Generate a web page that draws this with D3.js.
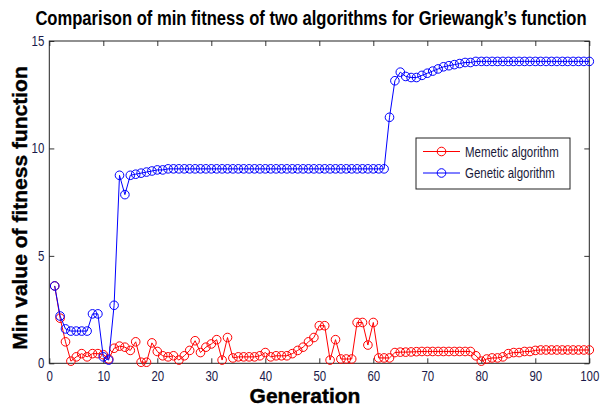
<!DOCTYPE html>
<html>
<head>
<meta charset="utf-8">
<script src="https://cdn.jsdelivr.net/npm/d3@7"></script>
<style>
  body { margin: 0; background: #fff; }
  #canvas { width: 601px; height: 407px; }
  text { font-family: "Liberation Sans", Arial, sans-serif; }
</style>
</head>
<body>
<div id="canvas" class="canvas"></div>
<script>
// data
var generations = d3.range(1, 101);

var memetic = [
  3.6, 2.1, 1.0, 0.1, 0.3, 0.45, 0.3, 0.45, 0.45, 0.4,
  0.2, 0.7, 0.8, 0.75, 0.6, 1.0, 0.05, 0.05, 0.95, 0.55,
  0.35, 0.3, 0.35, 0.15, 0.35, 0.6, 1.05, 0.5, 0.75, 0.9,
  1.1, 0.15, 1.2, 0.25, 0.3, 0.3, 0.3, 0.3, 0.35, 0.5,
  0.3, 0.35, 0.35, 0.35, 0.45, 0.6, 0.75, 1.0, 1.2, 1.75,
  1.75, 0.15, 1.1, 0.2, 0.2, 0.2, 1.9, 1.9, 0.85, 1.9,
  0.25, 0.25, 0.25, 0.5, 0.52, 0.52, 0.53, 0.54, 0.55, 0.55,
  0.55, 0.55, 0.55, 0.55, 0.55, 0.55, 0.55, 0.55, 0.35, 0.1,
  0.2, 0.25, 0.25, 0.3, 0.45, 0.5, 0.5, 0.55, 0.55, 0.6,
  0.62, 0.62, 0.62, 0.62, 0.62, 0.62, 0.62, 0.62, 0.62, 0.62
];

var genetic = [
  3.6, 2.2, 1.6, 1.5, 1.5, 1.5, 1.5, 2.3, 2.3, 0.3,
  0.15, 2.7, 8.75, 7.85, 8.75, 8.8, 8.85, 8.9, 8.95, 9.0,
  9.0, 9.05, 9.05, 9.05, 9.05, 9.05, 9.05, 9.05, 9.05, 9.05,
  9.05, 9.05, 9.05, 9.05, 9.05, 9.05, 9.05, 9.05, 9.05, 9.05,
  9.05, 9.05, 9.05, 9.05, 9.05, 9.05, 9.05, 9.05, 9.05, 9.05,
  9.05, 9.05, 9.05, 9.05, 9.05, 9.05, 9.05, 9.05, 9.05, 9.05,
  9.05, 9.05, 11.45, 13.15, 13.55, 13.35, 13.3, 13.3, 13.4, 13.5,
  13.6, 13.7, 13.8, 13.85, 13.9, 13.95, 14.0, 14.0, 14.05, 14.05,
  14.05, 14.05, 14.05, 14.05, 14.05, 14.05, 14.05, 14.05, 14.05, 14.05,
  14.05, 14.05, 14.05, 14.05, 14.05, 14.05, 14.05, 14.05, 14.05, 14.05
];

var xTicks = [0, 10, 20, 30, 40, 50, 60, 70, 80, 90, 100];
var yTicks = [0, 5, 10, 15];
var seriesNames = ['Memetic algorithm', 'Genetic algorithm'];
var seriesColors = ['#ff0000', '#0000ff'];

var m = {t: 41, r: 11.7, b: 43.7, l: 49.3},
    W = 601, H = 407,
    w = W - m.l - m.r,
    h = H - m.t - m.b;

// the original text is narrow, squeeze it horizontally
var squeeze = 0.82;

var svg = d3.select('.canvas')
    .append('svg')
    .attr('width', W)
    .attr('height', H);

var plot = svg.append('g')
    .attr('transform', 'translate(' + m.l + ',' + m.t + ')');

var x = d3.scaleLinear().domain([0, 100]).range([0, w]);
var y = d3.scaleLinear().domain([0, 15]).range([h, 0]);

// axes, ticks inward on all four sides (box)
function styleAxis(g) {
  g.select('.domain').remove();
  g.selectAll('.tick line').attr('stroke', '#333');
  g.selectAll('.tick text')
    .attr('fill', '#1a1a4a')
    .style('font-size', '14px')
    .attr('transform', 'scale(' + squeeze + ',1)');
}

plot.append('g')
  .attr('transform', 'translate(0,' + h + ')')
  .call(d3.axisBottom(x).tickValues(xTicks).tickSizeInner(-5).tickSizeOuter(0).tickPadding(8))
  .call(styleAxis);

plot.append('g')
  .call(d3.axisTop(x).tickValues(xTicks).tickSizeInner(-5).tickSizeOuter(0).tickFormat(''))
  .call(styleAxis);

plot.append('g')
  .call(d3.axisLeft(y).tickValues(yTicks).tickSizeInner(-5).tickSizeOuter(0).tickPadding(6))
  .call(styleAxis);

plot.append('g')
  .attr('transform', 'translate(' + w + ',0)')
  .call(d3.axisRight(y).tickValues(yTicks).tickSizeInner(-5).tickSizeOuter(0).tickFormat(''))
  .call(styleAxis);

plot.append('rect')
  .attr('width', w).attr('height', h)
  .attr('fill', 'none')
  .attr('stroke', '#222')
  .attr('stroke-width', 1);

// series
var line = d3.line()
  .x(function(d) { return x(d.g); })
  .y(function(d) { return y(d.v); });

[memetic, genetic].forEach(function(vals, i) {
  var pts = generations.map(function(g, k) { return {g: g, v: vals[k]}; });
  var grp = plot.append('g');
  grp.append('path')
    .datum(pts)
    .attr('d', line)
    .attr('fill', 'none')
    .attr('stroke', seriesColors[i])
    .attr('stroke-width', 1);
  grp.selectAll('circle')
    .data(pts)
    .enter()
    .append('circle')
      .attr('cx', function(d) { return x(d.g); })
      .attr('cy', function(d) { return y(d.v); })
      .attr('r', 4.3)
      .attr('fill', 'none')
      .attr('stroke', seriesColors[i])
      .attr('stroke-width', 1);
});

// legend
var leg = svg.append('g').attr('transform', 'translate(416,138)');
leg.append('rect')
  .attr('width', 154).attr('height', 51)
  .attr('fill', '#fff')
  .attr('stroke', '#222');

seriesNames.forEach(function(name, i) {
  var ly = 13.5 + i * 21.5;
  leg.append('line')
    .attr('x1', 7).attr('x2', 44)
    .attr('y1', ly).attr('y2', ly)
    .attr('stroke', seriesColors[i]);
  leg.append('circle')
    .attr('cx', 25.5).attr('cy', ly).attr('r', 4.3)
    .attr('fill', 'none')
    .attr('stroke', seriesColors[i]);
  leg.append('text')
    .attr('transform', 'translate(49,' + (ly + 5) + ') scale(' + squeeze + ',1)')
    .attr('fill', '#1a1a3a')
    .style('font-size', '14px')
    .text(name);
});

// titles
svg.append('text')
  .attr('transform', 'translate(311,25) scale(0.83,1)')
  .attr('text-anchor', 'middle')
  .style('font-size', '20px')
  .style('font-weight', 'bold')
  .text('Comparison of min fitness of two algorithms for Griewangk\u2019s function');

svg.append('text')
  .attr('x', 305).attr('y', 403)
  .attr('text-anchor', 'middle')
  .style('font-size', '21px')
  .style('font-weight', 'bold')
  .attr('stroke', '#000').attr('stroke-width', 0.4)
  .text('Generation');

svg.append('text')
  .attr('transform', 'translate(27,208) rotate(-90)')
  .attr('text-anchor', 'middle')
  .style('font-size', '21px')
  .style('font-weight', 'bold')
  .attr('stroke', '#000').attr('stroke-width', 0.4)
  .text('Min value of fitness function');
</script>
</body>
</html>
